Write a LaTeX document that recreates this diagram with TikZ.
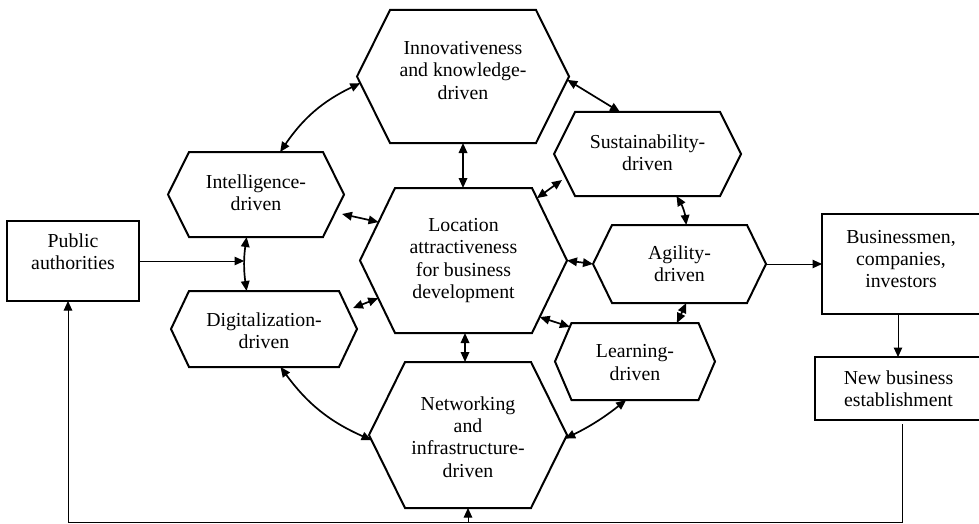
\documentclass[tikz,border=0pt]{standalone}
\usepackage{fontspec}
\setmainfont{Liberation Serif}
\usetikzlibrary{arrows.meta,calc}
\tikzset{
  hexline/.style={draw, line width=2pt, line join=miter},
  hexbox/.style={inner sep=0pt, outer sep=0pt},
  txt/.style={align=center, font=\fontsize{19.8}{22.3}\selectfont, inner sep=0pt},
  dbl/.style={{Triangle[length=10pt,width=8.5pt]}-{Triangle[length=10pt,width=8.5pt]}, line width=1.7pt},
  one/.style={-{Triangle[length=9.5pt,width=8.5pt]}, line width=1pt},
  thinline/.style={line width=1pt},
  boxframe/.style={draw, line width=2pt, inner sep=0pt, outer sep=0pt},
}
% name, cx, cy, half width, half height, corner offset, text shift, text
\newcommand\HexNode[8]{%
  \node[hexbox, minimum width={2*#4pt}, minimum height={2*#5pt}] (#1) at (#2,#3) {};
  \node[txt] (#1-t) at ([yshift=#7pt]#1.center) {#8};
  \draw[hexline] (#1.west)
    -- ([xshift=#6pt]#1.north west) coordinate (#1-nw)
    -- ([xshift=-#6pt]#1.north east) coordinate (#1-ne)
    -- (#1.east)
    -- ([xshift=-#6pt]#1.south east) coordinate (#1-se)
    -- ([xshift=#6pt]#1.south west) coordinate (#1-sw)
    -- cycle;
}
\begin{document}
\begin{tikzpicture}[x=1pt,y=-1pt]
\useasboundingbox (0,0) rectangle (979,524);

\HexNode{inn}{463}{76.5}{106}{66.5}{33}{6}{Innovativeness\\and knowledge-\\driven}
\HexNode{int}{256}{194.5}{88}{42.5}{21}{1.5}{Intelligence-\\driven}
\HexNode{dig}{264}{329}{93}{38}{18}{-1.5}{Digitalization-\\driven}
\HexNode{loc}{463.5}{260.5}{103.5}{72.5}{35}{0}{Location\\attractiveness\\for business\\development}
\HexNode{sus}{647.5}{154}{93.5}{42}{21}{1.5}{Sustainability-\\driven}
\HexNode{agi}{679.5}{264}{86.5}{39}{19}{0}{Agility-\\driven}
\HexNode{lea}{635}{361.5}{80}{38.5}{16.5}{-1}{Learning-\\driven}
\HexNode{net}{468}{435}{99}{73}{36}{-2}{Networking\\and\\infrastructure-\\driven}

\node[boxframe, minimum width=132pt, minimum height=80pt] (pub) at (73,261) {};
\node[txt] (pub-t) at ([yshift=9.5pt]pub.center) {Public\\authorities};
\node[boxframe, minimum width=158pt, minimum height=100pt] (bus) at (901,264) {};
\node[txt] (bus-t) at ([yshift=5pt]bus.center) {Businessmen,\\companies,\\investors};
\node[boxframe, minimum width=167pt, minimum height=63pt] (new) at (898.5,388.5) {};
\node[txt] (new-t) at (new.center) {New business\\establishment};

% double-headed connectors
\draw[dbl] ($(int-nw)!0.68!(int-ne)$) to[bend left=15] ($(inn.west)!0.1!(inn-sw)$);
\draw[dbl] ($(inn.east)!0.05!(inn-se)$) -- ($(sus-nw)!0.31!(sus-ne)$);
\draw[dbl] (inn.south) -- (inn.south |- loc.north);
\draw[dbl] ([shift={(-2,19.5)}]int.east) -- ($(loc.west)!0.53!(loc-nw)$);
\draw[dbl] ([shift={(-4,-21)}]dig.east) -- ($(loc.west)!0.52!(loc-sw)$);
\draw[dbl] ($(loc-ne)!0.14!(loc.east)$) -- ([shift={(8,26)}]sus.west);
\draw[dbl] (loc.east) -- (agi.west);
\draw[dbl] ($(loc.east)!0.78!(loc-se)$) -- ($(lea.west)!0.9!(lea-nw)$);
\draw[dbl] ($(sus-sw)!0.70!(sus-se)$) to[bend left=12] ($(agi-nw)!0.55!(agi-ne)$);
\draw[dbl] ($(agi-sw)!0.55!(agi-se)$) -- ($(lea-nw)!0.83!(lea-ne)$);
\draw[dbl] ([xshift=1.5pt]loc.south) -- ([xshift=1.5pt]loc.south |- net.north);
\draw[dbl] ($(dig-sw)!0.61!(dig-se)$) to[bend right=15] ($(net.west)!0.07!(net-sw)$);
\draw[dbl] ($(net.east)!0.05!(net-se)$) to[bend right=6] ($(lea-sw)!0.43!(lea-se)$);
\coordinate (m14) at ($(int-sw)!0.43!(int-se)$);
\draw[dbl] (m14) to[bend right=8] (m14 |- dig.north);

% single arrows
\draw[one] (pub.east) -- ([xshift=-2.5pt]pub.east -| m14);
\draw[one] (agi.east) -- (agi.east -| bus.west);
\draw[one] ([xshift=-3pt]bus.south) -- ([xshift=-3pt]bus.south |- new.north);

% feedback loop along the bottom
\coordinate (br) at (902,522.5);
\coordinate (bl) at (68,522.5);
\coordinate (bm) at (468,522.5);
\draw[thinline] ([xshift=3.5pt,yshift=-4pt]new.south) -- (br) -- (bl);
\draw[one] (bl) -- (bl |- pub.south);
\draw[one] (bm) -- (bm |- net.south);
\end{tikzpicture}
\end{document}
